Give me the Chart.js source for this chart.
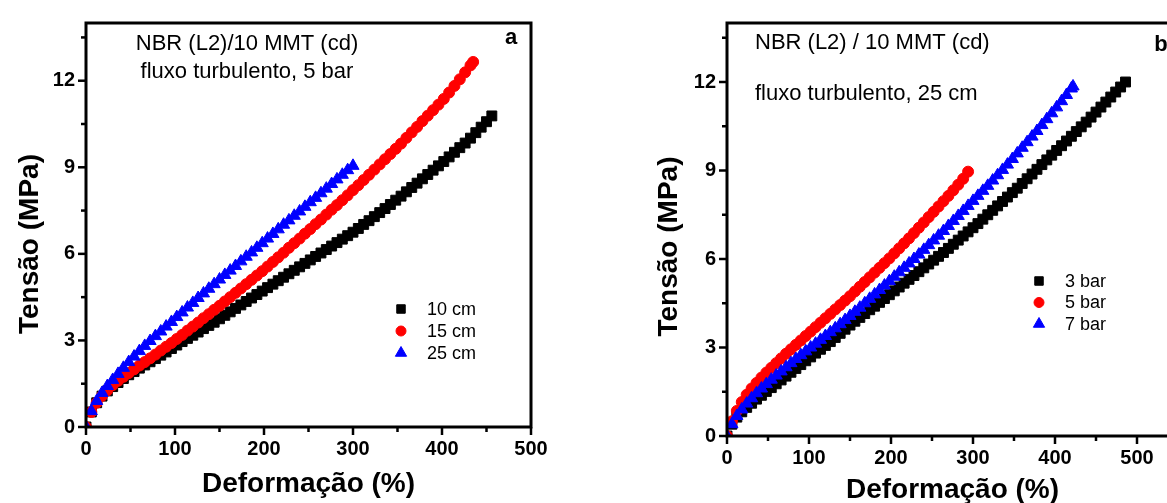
<!DOCTYPE html>
<html>
<head>
<meta charset="utf-8">
<script src="https://cdn.jsdelivr.net/npm/chart.js@4.4.1/dist/chart.umd.min.js"></script>
<style>
  html,body{margin:0;padding:0;background:#fff;overflow:hidden;}
  #wrap{position:relative;width:1167px;height:503px;overflow:hidden;}
  canvas{position:absolute;top:0;}
  #chartA{left:0;}
  #chartB{left:580px;}
</style>
</head>
<body>
<div id="wrap">
  <canvas id="chartA" width="580" height="503"></canvas>
  <canvas id="chartB" width="620" height="503"></canvas>
</div>
<script>
/* ── DATA: panel a, NBR (L2)/10 MMT (cd), 5 bar ── */
const strainA10 = [0,6,12,18,24,30,36,42,48,54,60,66,72,78,84,90,96,102,108,114,120,126,132,138,144,150,156,162,168,174,
  180,186,192,198,204,210,216,222,228,234,240,246,252,258,264,270,276,282,288,294,300,306,312,318,324,330,336,342,348,354,
  360,366,372,378,384,390,396,402,408,414,420,426,432,438,444,450,456];
const stressA10 = [0,0.52,0.84,1.07,1.25,1.40,1.54,1.68,1.81,1.92,2.04,2.15,2.26,2.37,2.49,2.60,2.72,2.84,2.96,3.07,3.18,3.29,3.41,3.52,3.63,3.75,3.87,3.99,4.11,4.23,
  4.35,4.47,4.59,4.71,4.83,4.95,5.07,5.19,5.31,5.43,5.55,5.67,5.79,5.91,6.03,6.15,6.27,6.39,6.51,6.63,6.75,6.88,7.02,7.15,7.29,7.43,7.57,7.71,7.86,8.00,
  8.15,8.30,8.45,8.60,8.75,8.90,9.05,9.20,9.36,9.52,9.68,9.84,10.01,10.20,10.39,10.58,10.78];

const strainA15 = [0,6,12,18,24,30,36,42,48,54,60,66,72,78,84,90,96,102,108,114,120,126,132,138,144,150,156,162,168,174,
  180,186,192,198,204,210,216,222,228,234,240,246,252,258,264,270,276,282,288,294,300,306,312,318,324,330,336,342,348,354,
  360,366,372,378,384,390,396,402,408,414,420,426,432,435];
const stressA15 = [0,0.52,0.84,1.08,1.27,1.45,1.60,1.74,1.87,2.00,2.13,2.25,2.38,2.51,2.65,2.78,2.91,3.05,3.19,3.34,3.48,3.62,3.77,3.91,4.06,4.20,4.35,4.50,4.65,4.80,
  4.95,5.10,5.25,5.40,5.56,5.72,5.88,6.04,6.21,6.37,6.53,6.70,6.86,7.03,7.19,7.36,7.53,7.69,7.86,8.03,8.21,8.38,8.56,8.74,8.92,9.10,9.28,9.46,9.64,9.82,
  10.02,10.21,10.40,10.60,10.79,10.98,11.17,11.37,11.59,11.82,12.05,12.29,12.53,12.65];

const strainA25 = [0,6,12,18,24,30,36,42,48,54,60,66,72,78,84,90,96,102,108,114,120,126,132,138,144,150,156,162,168,174,
  180,186,192,198,204,210,216,222,228,234,240,246,252,258,264,270,276,282,288,294,300];
const stressA25 = [0,0.55,0.90,1.18,1.42,1.63,1.84,2.05,2.25,2.44,2.63,2.81,2.98,3.15,3.31,3.48,3.64,3.81,3.97,4.14,4.30,4.47,4.63,4.79,4.95,5.11,5.27,5.42,5.58,5.74,
  5.90,6.05,6.21,6.37,6.53,6.69,6.85,7.01,7.16,7.32,7.47,7.63,7.79,7.94,8.10,8.26,8.42,8.58,8.74,8.90,9.05];

/* ── DATA: panel b, NBR (L2) / 10 MMT (cd), 25 cm ── */
const strainB3 = [0,6,12,18,24,30,36,42,48,54,60,66,72,78,84,90,96,102,108,114,120,126,132,138,144,150,156,162,168,174,
  180,186,192,198,204,210,216,222,228,234,240,246,252,258,264,270,276,282,288,294,300,306,312,318,324,330,336,342,348,354,
  360,366,372,378,384,390,396,402,408,414,420,426,432,438,444,450,456,462,468,474,480,486];
const stressB3 = [0,0.40,0.64,0.82,0.97,1.11,1.25,1.38,1.51,1.64,1.77,1.90,2.03,2.16,2.29,2.42,2.55,2.68,2.81,2.94,3.07,3.20,3.34,3.48,3.62,3.76,3.89,4.02,4.15,4.28,
  4.40,4.53,4.66,4.79,4.92,5.05,5.18,5.31,5.44,5.57,5.70,5.83,5.96,6.09,6.22,6.36,6.50,6.64,6.78,6.92,7.06,7.20,7.35,7.50,7.65,7.80,7.95,8.10,8.25,8.40,
  8.56,8.72,8.88,9.04,9.20,9.36,9.52,9.68,9.84,10.00,10.16,10.32,10.48,10.64,10.81,10.98,11.15,11.32,11.49,11.66,11.83,12.00];

const strainB5 = [0,6,12,18,24,30,36,42,48,54,60,66,72,78,84,90,96,102,108,114,120,126,132,138,144,150,156,162,168,174,
  180,186,192,198,204,210,216,222,228,234,240,246,252,258,264,270,276,282,288,294];
const stressB5 = [0,0.50,0.85,1.15,1.40,1.61,1.80,1.98,2.15,2.31,2.47,2.63,2.79,2.94,3.09,3.24,3.39,3.54,3.69,3.84,3.99,4.14,4.29,4.44,4.59,4.74,4.90,5.06,5.22,5.38,
  5.54,5.70,5.86,6.02,6.19,6.36,6.53,6.70,6.88,7.06,7.24,7.42,7.60,7.78,7.96,8.14,8.33,8.52,8.72,8.96];

const strainB7 = [0,6,12,18,24,30,36,42,48,54,60,66,72,78,84,90,96,102,108,114,120,126,132,138,144,150,156,162,168,174,
  180,186,192,198,204,210,216,222,228,234,240,246,252,258,264,270,276,282,288,294,300,306,312,318,324,330,336,342,348,354,
  360,366,372,378,384,390,396,402,408,414,420,422];
const stressB7 = [0,0.40,0.68,0.90,1.10,1.28,1.45,1.61,1.76,1.91,2.05,2.19,2.33,2.47,2.61,2.74,2.87,3.00,3.13,3.26,3.39,3.52,3.65,3.79,3.93,4.07,4.21,4.35,4.50,4.65,
  4.80,4.95,5.10,5.25,5.40,5.55,5.70,5.85,6.00,6.15,6.31,6.47,6.63,6.79,6.95,7.12,7.29,7.46,7.63,7.80,7.97,8.14,8.31,8.48,8.66,8.84,9.02,9.20,9.39,9.58,
  9.77,9.96,10.15,10.34,10.54,10.74,10.94,11.14,11.35,11.56,11.78,11.85];

const xTitle = 'Deformação (%)';
const yTitle = 'Tensão (MPa)';

const FONT = "'Liberation Sans', Arial, Helvetica, sans-serif";
const pts = (xs, ys) => xs.map((x,i)=>({x, y:ys[i]}));

// marker look per series slot: black squares, red circles, blue triangles
// (radius = on the curves, key = in the legend)
const STYLES = [
  {pointStyle:'rect',     radius:7,   key:6,   color:'#000000'},
  {pointStyle:'circle',   radius:5.5, key:5,   color:'#ff0000'},
  {pointStyle:'triangle', radius:7,   key:6.5, color:'#0000ff'}
];

/* ── frame, ticks, titles, notes and legend ── */
const decoPlugin = {
  id: 'deco',
  afterDraw(chart, args, o) {
    const ctx = chart.ctx, a = chart.chartArea;
    ctx.save();
    ctx.strokeStyle = '#000'; ctx.fillStyle = '#000';

    // outward ticks: long on labelled values, short in between
    ctx.lineWidth = 2.5;
    const xs = chart.scales.x, ys = chart.scales.y;
    xs.ticks.forEach(t => {
      const px = xs.getPixelForValue(t.value);
      const len = t.value % 100 === 0 ? 8 : 5;
      ctx.beginPath(); ctx.moveTo(px, a.bottom); ctx.lineTo(px, a.bottom + len); ctx.stroke();
    });
    ys.ticks.forEach(t => {
      const py = ys.getPixelForValue(t.value);
      const len = Math.abs(t.value % 3) < 1e-6 ? 8 : 5;
      ctx.beginPath(); ctx.moveTo(a.left, py); ctx.lineTo(a.left - len, py); ctx.stroke();
    });

    // box around the plot
    ctx.lineWidth = 3;
    ctx.strokeRect(a.left, a.top, a.right - a.left, a.bottom - a.top);

    // axis titles
    ctx.font = 'bold 28px ' + FONT;
    ctx.textAlign = 'center'; ctx.textBaseline = 'middle';
    ctx.fillText(xTitle, (a.left + a.right) / 2, o.xTitleY);
    ctx.save();
    ctx.translate(o.yTitleX, (a.top + a.bottom) / 2 + o.yTitleShift);
    ctx.rotate(-Math.PI / 2);
    ctx.fillText(yTitle, 0, 0);
    ctx.restore();

    // sample notes
    ctx.font = '22px ' + FONT;
    ctx.textAlign = o.noteAlign;
    o.notes.forEach(n => ctx.fillText(n.text, n.x, n.y));
    ctx.font = 'bold 22px ' + FONT;
    ctx.textAlign = 'center';
    ctx.fillText(o.tag.text, o.tag.x, o.tag.y);

    // legend
    ctx.font = '18px ' + FONT;
    ctx.textAlign = 'left';
    o.legend.labels.forEach((lbl, i) => {
      const s = STYLES[i], y = o.legend.y + i * o.legend.gap;
      ctx.fillStyle = s.color; ctx.strokeStyle = s.color; ctx.lineWidth = 1;
      Chart.helpers.drawPoint(ctx, {pointStyle:s.pointStyle, radius:s.key, rotation:0, borderWidth:1}, o.legend.x, y);
      ctx.fillStyle = '#000';
      ctx.fillText(lbl, o.legend.x + 26, y + 1);
    });
    ctx.restore();
  }
};

function makePanel(id, series, labels, opt) {
  const datasets = series.map((s, i) => ({
    label: labels[i],
    data: s,
    showLine: false,
    pointStyle: STYLES[i].pointStyle,
    pointRadius: STYLES[i].radius,
    pointHoverRadius: STYLES[i].radius,
    backgroundColor: STYLES[i].color,
    borderColor: STYLES[i].color,
    pointBorderWidth: 1,
    order: 2 - i   // blue on top, black underneath
  }));
  return new Chart(document.getElementById(id), {
    type: 'scatter',
    data: { datasets },
    options: {
      responsive: false, animation: false,
      layout: { padding: opt.padding },
      plugins: { legend:{display:false}, tooltip:{enabled:false}, deco: opt.deco },
      scales: {
        x: {
          type:'linear', min:0, max:opt.xMax,
          grid:{display:false, drawTicks:false}, border:{display:false},
          ticks:{ stepSize:50, includeBounds:false, padding:opt.xPad, color:'#000', maxRotation:0,
                  font:{family:FONT, size:20, weight:'bold'},
                  callback:v => v % 100 === 0 ? String(v) : '' },
          afterFit: s => { s.height = opt.xHeight; }
        },
        y: {
          type:'linear', min:0, max:14,
          grid:{display:false, drawTicks:false}, border:{display:false},
          ticks:{ stepSize:1.5, includeBounds:false, padding:11, color:'#000',
                  font:{family:FONT, size:20, weight:'bold'},
                  callback:v => Math.abs(v % 3) < 1e-6 ? String(v) : '' },
          afterFit: s => { s.width = opt.yWidth; }
        }
      }
    },
    plugins: [decoPlugin]
  });
}

makePanel('chartA',
  [pts(strainA10, stressA10), pts(strainA15, stressA15), pts(strainA25, stressA25)],
  ['10 cm', '15 cm', '25 cm'],
  { xMax:500, yWidth:86, xHeight:76, xPad:10, padding:{top:14, right:49, left:0, bottom:0},
    deco:{ xTitleY:484, yTitleX:30, yTitleShift:19, noteAlign:'center',
           notes:[{text:'NBR (L2)/10 MMT (cd)', x:247, y:44}, {text:'fluxo turbulento, 5 bar', x:247, y:72}],
           tag:{text:'a', x:511, y:38},
           legend:{labels:['10 cm','15 cm','25 cm'], x:401, y:309, gap:22} } });

makePanel('chartB',
  [pts(strainB3, stressB3), pts(strainB5, stressB5), pts(strainB7, stressB7)],
  ['3 bar', '5 bar', '7 bar'],
  { xMax:550, yWidth:147, xHeight:67, xPad:10, padding:{top:18, right:22, left:0, bottom:0},
    deco:{ xTitleY:490, yTitleX:89, yTitleShift:17, noteAlign:'left',
           notes:[{text:'NBR (L2) / 10 MMT (cd)', x:175, y:43}, {text:'fluxo turbulento, 25 cm', x:175, y:94}],
           tag:{text:'b', x:581, y:45},
           legend:{labels:['3 bar','5 bar','7 bar'], x:459, y:281, gap:21.5} } });
</script>
</body>
</html>
